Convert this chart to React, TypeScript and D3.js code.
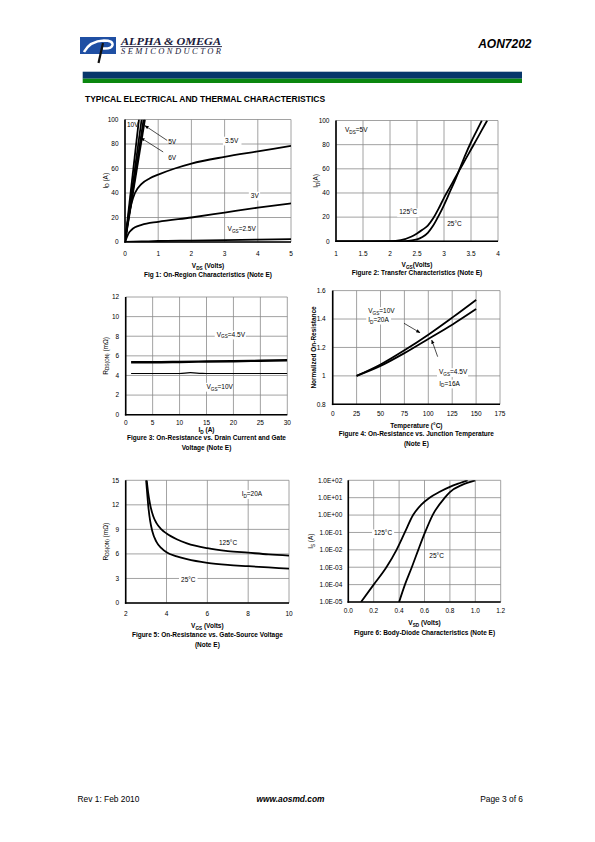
import React from 'react';
import * as d3 from 'd3';

type Pt = [number, number];

const FONT = "'Liberation Sans', Arial, Helvetica, sans-serif";
const SERIF = "'Liberation Serif', 'Times New Roman', serif";

// ---------------- Fig 1: On-Region Characteristics ----------------
const fig1XTicks = [0, 1, 2, 3, 4, 5];
const fig1YTicks = [0, 20, 40, 60, 80, 100];
const fig1Vgs10V: Pt[] = [[0, 0], [0.42, 100]];
const fig1Vgs6V: Pt[] = [[0, 0], [0.5, 100]];
const fig1Vgs5V: Pt[] = [[0, 0], [0.56, 100]];
const fig1Vgs4V: Pt[] = [[0, 0], [0.6, 100]];
const fig1Vgs3p5V: Pt[] = [[0, 0], [0.05, 11], [0.1, 19], [0.15, 26], [0.2, 32], [0.3, 40], [0.5, 47.5], [0.75, 52], [1, 55], [1.5, 60], [2, 64], [3, 69.5], [4, 74], [5, 78.5]];
const fig1Vgs3V: Pt[] = [[0, 0], [0.05, 3.5], [0.1, 6.7], [0.2, 10], [0.3, 12], [0.5, 14], [1, 16.5], [2, 20], [3, 24], [4, 28], [5, 31.5]];
const fig1Vgs2p5V: Pt[] = [[0, 0], [0.5, 0.4], [1, 0.8], [2, 1.2], [3, 1.6], [4, 2], [5, 2.4]];

// ---------------- Fig 2: Transfer Characteristics ----------------
const fig2XTicks = [1, 1.5, 2, 2.5, 3, 3.5, 4];
const fig2YTicks = [0, 20, 40, 60, 80, 100];
const fig2T125: Pt[] = [[1, 0], [1.5, 0], [2, 0.2], [2.2, 1], [2.4, 4], [2.5, 6.5], [2.6, 9.5], [2.7, 13], [2.8, 19], [2.9, 27], [3.0, 36], [3.1, 44], [3.2, 52], [3.3, 60], [3.4, 68], [3.5, 76], [3.6, 84], [3.7, 92], [3.8, 100]];
const fig2T25: Pt[] = [[1, 0], [2, 0], [2.3, 0.2], [2.5, 1.5], [2.6, 3.5], [2.7, 7], [2.8, 13], [2.9, 21], [3.0, 30], [3.1, 40], [3.2, 50], [3.3, 61], [3.4, 72], [3.5, 82], [3.6, 91], [3.7, 100]];

// ---------------- Fig 3: On-Resistance vs Drain Current ----------------
const fig3XTicks = [0, 5, 10, 15, 20, 25, 30];
const fig3YTicks = [0, 2, 4, 6, 8, 10, 12];
const fig3Vgs4p5V: Pt[] = [[1, 5.35], [5, 5.35], [10, 5.38], [15, 5.42], [20, 5.45], [25, 5.5], [30, 5.55]];
const fig3Vgs10V: Pt[] = [[1, 4.2], [5, 4.2], [10, 4.2], [12, 4.28], [14, 4.22], [15, 4.2], [20, 4.2], [25, 4.2], [30, 4.2]];

// ---------------- Fig 4: On-Resistance vs Junction Temperature ----------------
const fig4XTicks = [0, 25, 50, 75, 100, 125, 150, 175];
const fig4YTicks = [0.8, 1, 1.2, 1.4, 1.6];
const fig4Vgs10V: Pt[] = [[25, 1], [50, 1.08], [75, 1.18], [100, 1.29], [125, 1.41], [150, 1.535]];
const fig4Vgs4p5V: Pt[] = [[25, 1], [50, 1.07], [75, 1.16], [100, 1.26], [125, 1.36], [150, 1.47]];

// ---------------- Fig 5: On-Resistance vs Gate-Source Voltage ----------------
const fig5XTicks = [2, 4, 6, 8, 10];
const fig5YTicks = [0, 3, 6, 9, 12, 15];
const fig5T125: Pt[] = [[3.03, 15], [3.1, 13.5], [3.2, 12], [3.35, 10.6], [3.5, 9.8], [3.75, 9], [4, 8.5], [4.5, 7.8], [5, 7.3], [6, 6.7], [7, 6.35], [8, 6.15], [9, 5.95], [10, 5.8]];
const fig5T25: Pt[] = [[3.0, 15], [3.05, 13.5], [3.1, 12], [3.2, 10], [3.3, 8.8], [3.5, 7.5], [3.75, 6.7], [4, 6.2], [4.5, 5.7], [5, 5.35], [6, 4.9], [7, 4.65], [8, 4.5], [9, 4.35], [10, 4.2]];

// ---------------- Fig 6: Body-Diode Characteristics ----------------
const fig6XTicks = [0, 0.2, 0.4, 0.6, 0.8, 1.0, 1.2];
const fig6YTicks = [1e-5, 1e-4, 1e-3, 1e-2, 1e-1, 1, 10, 100];
const fig6T125: Pt[] = [[0.1, 1e-5], [0.2, 1e-4], [0.3, 1e-3], [0.38, 1e-2], [0.445, 1e-1], [0.51, 1], [0.575, 4], [0.64, 10], [0.72, 22], [0.8, 42], [0.88, 70], [0.94, 100]];
const fig6T25: Pt[] = [[0.4, 1e-5], [0.446, 1e-4], [0.5, 1e-3], [0.551, 1e-2], [0.604, 1e-1], [0.664, 1], [0.76, 10], [0.8, 21], [0.9, 56], [1.0, 100]];

// ---------------- helpers ----------------
interface Ann { text: string; at: Pt; box?: boolean; }
interface Arrow { from: Pt; to: Pt; }
interface ChartCfg {
  left: number; right: number; top: number; bottom: number;
  xDomain: [number, number]; yDomain: [number, number]; log?: boolean;
  xTicks: number[]; yTicks: number[];
  xFmt: (v: number) => string; yFmt: (v: number) => string;
  yLabelGap: number; xTickY: number;
  series: Pt[][]; widths?: number[]; anns: Ann[]; arrows: Arrow[];
  xTitle: string; xTitleY: number;
  yTitle: string; yTitleX: number; yTitleBold?: boolean;
  caption: string[]; captionY: number;
}

function parseRich(s: string) {
  const parts: { t: string; sub: boolean }[] = [];
  const re = /_\{([^}]*)\}/g;
  let last = 0;
  let m: RegExpExecArray | null;
  while ((m = re.exec(s))) {
    if (m.index > last) parts.push({ t: s.slice(last, m.index), sub: false });
    parts.push({ t: m[1], sub: true });
    last = m.index + m[0].length;
  }
  if (last < s.length) parts.push({ t: s.slice(last), sub: false });
  return parts;
}

function richWidth(s: string, size: number) {
  return parseRich(s).reduce((a, p) => a + p.t.length * size * (p.sub ? 0.72 : 1) * 0.56, 0);
}

function Rich(props: any) {
  const { text, size, ...rest } = props;
  const parts = parseRich(text);
  const off = size * 0.3;
  let prevSub = false;
  return (
    <text {...rest} fontSize={size}>
      {parts.map((p, i) => {
        let dy = 0;
        if (p.sub && !prevSub) dy = off;
        else if (!p.sub && prevSub) dy = -off;
        prevSub = p.sub;
        return (
          <tspan key={i} dy={dy || undefined} fontSize={p.sub ? size * 0.72 : size}>{p.t}</tspan>
        );
      })}
    </text>
  );
}

function Chart({ cfg, id }: { cfg: ChartCfg; id: string }) {
  const { left, right, top, bottom } = cfg;
  const xs = d3.scaleLinear().domain(cfg.xDomain).range([left, right]);
  const ys: any = (cfg.log ? d3.scaleLog() : d3.scaleLinear()).domain(cfg.yDomain).range([bottom, top]);
  const line = d3.line<Pt>().x(d => xs(d[0])).y(d => ys(d[1])).curve(d3.curveMonotoneX);
  const fs = 6.5;
  const grid = '#8a8a8a';
  const cx = (left + right) / 2;
  const cy = (top + bottom) / 2;
  return (
    <g fontFamily={FONT}>
      <defs>
        <clipPath id={`clip-${id}`}>
          <rect x={left} y={top} width={right - left} height={bottom - top} />
        </clipPath>
        <marker id={`arr-${id}`} viewBox="0 0 10 10" refX="9" refY="5" markerWidth="6" markerHeight="6" orient="auto">
          <path d="M0,1 L10,5 L0,9 Z" fill="#000" />
        </marker>
      </defs>
      {cfg.xTicks.map((t, i) => (
        <line key={`gx${i}`} x1={xs(t)} x2={xs(t)} y1={top} y2={bottom} stroke={grid} strokeWidth={0.8} />
      ))}
      {cfg.yTicks.map((t, i) => (
        <line key={`gy${i}`} x1={left} x2={right} y1={ys(t)} y2={ys(t)} stroke={grid} strokeWidth={0.8} />
      ))}
      {cfg.anns.filter(a => a.box).map((a, i) => {
        const w = richWidth(a.text, fs);
        const x = xs(a.at[0]);
        const y = ys(a.at[1]);
        return <rect key={`b${i}`} x={x - 2} y={y - fs * 0.9} width={w + 4} height={fs * 1.35} fill="#fff" />;
      })}
      <g clipPath={`url(#clip-${id})`}>
        {cfg.series.map((s, i) => (
          <path key={`s${i}`} d={line(s) || ''} fill="none" stroke="#000"
            strokeWidth={cfg.widths ? cfg.widths[i] : 1.8} strokeLinejoin="round" />
        ))}
      </g>
      <line x1={left} x2={left} y1={top} y2={bottom + 0.8} stroke="#000" strokeWidth={1.6} />
      <line x1={left - 0.8} x2={right} y1={bottom} y2={bottom} stroke="#000" strokeWidth={1.6} />
      {cfg.arrows.map((a, i) => (
        <line key={`a${i}`} x1={xs(a.from[0])} y1={ys(a.from[1])} x2={xs(a.to[0])} y2={ys(a.to[1])}
          stroke="#000" strokeWidth={0.7} markerEnd={`url(#arr-${id})`} />
      ))}
      {cfg.anns.map((a, i) => (
        <Rich key={`t${i}`} text={a.text} size={fs} x={xs(a.at[0])} y={ys(a.at[1])} fill="#000" />
      ))}
      {cfg.xTicks.map((t, i) => (
        <text key={`xl${i}`} x={xs(t)} y={cfg.xTickY} fontSize={fs} textAnchor="middle" fill="#000">{cfg.xFmt(t)}</text>
      ))}
      {cfg.yTicks.map((t, i) => (
        <text key={`yl${i}`} x={left - cfg.yLabelGap} y={ys(t) + fs * 0.35} fontSize={fs} textAnchor="end" fill="#000">{cfg.yFmt(t)}</text>
      ))}
      <Rich text={cfg.xTitle} size={fs} x={cx} y={cfg.xTitleY} textAnchor="middle" fontWeight="bold" fill="#000" />
      <Rich text={cfg.yTitle} size={fs} x={0} y={0} textAnchor="middle" fontWeight={cfg.yTitleBold ? 'bold' : 'normal'} fill="#000"
        transform={`translate(${cfg.yTitleX},${cy}) rotate(-90)`} />
      {cfg.caption.map((c, i) => (
        <text key={`c${i}`} x={cx} y={cfg.captionY + i * 10} fontSize={fs} fontWeight="bold" textAnchor="middle" fill="#000">{c}</text>
      ))}
    </g>
  );
}

const fmt0 = (v: number) => `${v}`;

const fig1: ChartCfg = {
  left: 125, right: 291, top: 119.5, bottom: 242,
  xDomain: [0, 5], yDomain: [0, 100],
  xTicks: fig1XTicks, yTicks: fig1YTicks, xFmt: fmt0, yFmt: fmt0,
  yLabelGap: 6.5, xTickY: 256.3,
  series: [fig1Vgs10V, fig1Vgs6V, fig1Vgs5V, fig1Vgs4V, fig1Vgs3p5V, fig1Vgs3V, fig1Vgs2p5V],
  anns: [
    { text: '10V', at: [0.06, 93.5] },
    { text: '5V', at: [1.3, 80.4] },
    { text: '6V', at: [1.3, 66.9] },
    { text: '3.5V', at: [3.01, 81.2], box: true },
    { text: '3V', at: [3.79, 36.3], box: true },
    { text: 'V_{GS}=2.5V', at: [3.09, 8.6], box: true },
  ],
  arrows: [
    { from: [1.27, 82.9], to: [0.6, 95] },
    { from: [1.15, 73.5], to: [0.48, 85] },
  ],
  xTitle: 'V_{DS} (Volts)', xTitleY: 268.3,
  yTitle: 'I_{D} (A)', yTitleX: 107.5,
  caption: ['Fig 1: On-Region Characteristics (Note E)'], captionY: 277.3,
};

const fig2: ChartCfg = {
  left: 336, right: 498, top: 120.5, bottom: 241.3,
  xDomain: [1, 4], yDomain: [0, 100],
  xTicks: fig2XTicks, yTicks: fig2YTicks, xFmt: fmt0, yFmt: fmt0,
  yLabelGap: 6.5, xTickY: 256.3,
  series: [fig2T125, fig2T25],
  anns: [
    { text: 'V_{DS}=5V', at: [1.167, 90.3] },
    { text: '125°C', at: [2.17, 22.4], box: true },
    { text: '25°C', at: [3.06, 12.7], box: true },
  ],
  arrows: [],
  xTitle: 'V_{GS}(Volts)', xTitleY: 267.3,
  yTitle: 'I_{D}(A)', yTitleX: 318.3,
  caption: ['Figure 2: Transfer Characteristics (Note E)'], captionY: 275.3,
};

const fig3: ChartCfg = {
  left: 125.7, right: 287.3, top: 297, bottom: 414.7,
  xDomain: [0, 30], yDomain: [0, 12],
  xTicks: fig3XTicks, yTicks: fig3YTicks, xFmt: fmt0, yFmt: fmt0,
  yLabelGap: 6.5, xTickY: 424.8,
  series: [fig3Vgs4p5V, fig3Vgs10V], widths: [2.4, 1.2],
  anns: [
    { text: 'V_{GS}=4.5V', at: [16.9, 7.97], box: true },
    { text: 'V_{GS}=10V', at: [15.0, 2.65], box: true },
  ],
  arrows: [],
  xTitle: 'I_{D} (A)', xTitleY: 431.8,
  yTitle: 'R_{DS(ON)} (mΩ)', yTitleX: 107.5,
  caption: ['Figure 3: On-Resistance vs. Drain Current and Gate', 'Voltage (Note E)'], captionY: 440.3,
};

const fig4: ChartCfg = {
  left: 332.7, right: 500, top: 290.6, bottom: 404.3,
  xDomain: [0, 175], yDomain: [0.8, 1.6],
  xTicks: fig4XTicks, yTicks: fig4YTicks, xFmt: fmt0, yFmt: fmt0,
  yLabelGap: 7, xTickY: 416.3,
  series: [fig4Vgs10V, fig4Vgs4p5V],
  anns: [
    { text: 'V_{GS}=10V', at: [37.2, 1.442], box: true },
    { text: 'I_{D}=20A', at: [37.2, 1.382], box: true },
    { text: 'V_{GS}=4.5V', at: [111.2, 1.013], box: true },
    { text: 'I_{D}=16A', at: [111.5, 0.932], box: true },
  ],
  arrows: [
    { from: [74.6, 1.37], to: [91.3, 1.304] },
    { from: [109.8, 1.135], to: [103.6, 1.252] },
  ],
  xTitle: 'Temperature (°C)', xTitleY: 428.3,
  yTitle: 'Normalized On-Resistance', yTitleX: 316.3, yTitleBold: true,
  caption: ['Figure 4: On-Resistance vs. Junction Temperature', '(Note E)'], captionY: 436.3,
};

const fig5: ChartCfg = {
  left: 125.7, right: 289, top: 480.3, bottom: 603,
  xDomain: [2, 10], yDomain: [0, 15],
  xTicks: fig5XTicks, yTicks: fig5YTicks, xFmt: fmt0, yFmt: fmt0,
  yLabelGap: 6.5, xTickY: 616.3,
  series: [fig5T125, fig5T25],
  anns: [
    { text: 'I_{D}=20A', at: [7.68, 13.08], box: true },
    { text: '125°C', at: [6.57, 7.05], box: true },
    { text: '25°C', at: [4.71, 2.51], box: true },
  ],
  arrows: [],
  xTitle: 'V_{GS} (Volts)', xTitleY: 628.3,
  yTitle: 'R_{DS(ON)} (mΩ)', yTitleX: 107.5,
  caption: ['Figure 5: On-Resistance vs. Gate-Source Voltage', '(Note E)'], captionY: 637.3,
};

const fig6: ChartCfg = {
  left: 348.3, right: 500.7, top: 480.3, bottom: 602,
  xDomain: [0, 1.2], yDomain: [1e-5, 100], log: true,
  xTicks: fig6XTicks, yTicks: fig6YTicks,
  xFmt: (v) => v.toFixed(1),
  yFmt: (v) => {
    const e = Math.round(Math.log10(v));
    return `1.0E${e < 0 ? '-' : '+'}${String(Math.abs(e)).padStart(2, '0')}`;
  },
  yLabelGap: 6, xTickY: 613.3,
  series: [fig6T125, fig6T25],
  anns: [
    { text: '125°C', at: [0.202, 0.0687], box: true },
    { text: '25°C', at: [0.638, 0.0036], box: true },
  ],
  arrows: [],
  xTitle: 'V_{SD} (Volts)', xTitleY: 625.3,
  yTitle: 'I_{S} (A)', yTitleX: 313.3,
  caption: ['Figure 6: Body-Diode Characteristics (Note E)'], captionY: 635.3,
};

function Header() {
  return (
    <g>
      <rect x={80} y={37} width={36} height={17} fill="#1f4fa3" />
      <path d="M84,52 Q90,41 104,40.5 Q113,40.5 112.5,45 Q111.5,49 103,48.5" fill="none" stroke="#fff" strokeWidth={2.6} />
      <path d="M98.5,63 L103,43" stroke="#111" strokeWidth={2.2} />
      <text x={121} y={44.5} fontFamily={SERIF} fontStyle="italic" fontWeight="bold" fontSize={10.5}
        textLength={100} lengthAdjust="spacingAndGlyphs" fill="#1a1a3a">ALPHA &amp; OMEGA</text>
      <line x1={120.5} x2={222} y1={46.6} y2={46.6} stroke="#1a1a3a" strokeWidth={0.9} />
      <text x={121} y={54} fontFamily={SERIF} fontStyle="italic" fontSize={8.5}
        textLength={100} lengthAdjust="spacing" fill="#1a1a3a">SEMICONDUCTOR</text>
      <text x={531.5} y={47.5} fontFamily={FONT} fontStyle="italic" fontWeight="bold" fontSize={12}
        textAnchor="end" fill="#000">AON7202</text>
      <rect x={82.7} y={71.7} width={439.3} height={7} fill="#07366b" />
      <rect x={82.7} y={78.7} width={439.3} height={4.3} fill="#0a870f" />
      <text x={85} y={102} fontFamily={FONT} fontWeight="bold" fontSize={8.5} fill="#000">
        TYPICAL ELECTRICAL AND THERMAL CHARACTERISTICS
      </text>
    </g>
  );
}

function Footer() {
  return (
    <g fontFamily={FONT} fontSize={8.4} fill="#000">
      <text x={77.5} y={802}>Rev 1: Feb 2010</text>
      <text x={290.5} y={802} textAnchor="middle" fontWeight="bold" fontStyle="italic">www.aosmd.com</text>
      <text x={523} y={802} textAnchor="end">Page 3 of 6</text>
    </g>
  );
}

export default function App() {
  return (
    <svg width={595} height={842} viewBox="0 0 595 842"
      style={{ position: 'absolute', left: 0, top: 0, background: '#fff' }}>
      <rect x={0} y={0} width={595} height={842} fill="#fff" />
      <Header />
      <Chart cfg={fig1} id="f1" />
      <Chart cfg={fig2} id="f2" />
      <Chart cfg={fig3} id="f3" />
      <Chart cfg={fig4} id="f4" />
      <Chart cfg={fig5} id="f5" />
      <Chart cfg={fig6} id="f6" />
      <Footer />
    </svg>
  );
}
